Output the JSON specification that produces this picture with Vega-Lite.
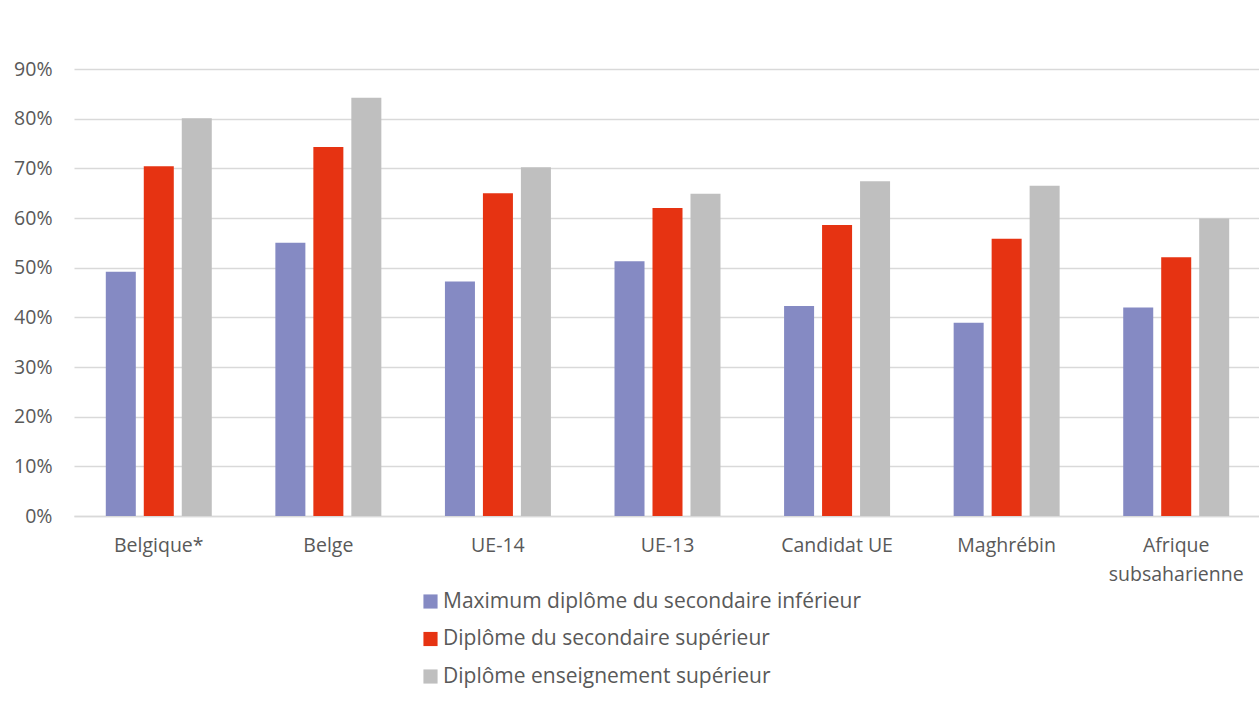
{
  "$schema": "https://vega.github.io/schema/vega-lite/v6.json",
  "autosize": "none",
  "width": 1187,
  "height": 447,
  "padding": {"left": 74, "top": 69, "right": 0, "bottom": 190},
  "background": "white",
  "data": {
    "values": [
      {"groupe": "Belgique*", "niveau": "Maximum diplôme du secondaire inférieur", "valeur": 0.492},
      {"groupe": "Belgique*", "niveau": "Diplôme du secondaire supérieur", "valeur": 0.704},
      {"groupe": "Belgique*", "niveau": "Diplôme enseignement supérieur", "valeur": 0.801},
      {"groupe": "Belge", "niveau": "Maximum diplôme du secondaire inférieur", "valeur": 0.550},
      {"groupe": "Belge", "niveau": "Diplôme du secondaire supérieur", "valeur": 0.743},
      {"groupe": "Belge", "niveau": "Diplôme enseignement supérieur", "valeur": 0.842},
      {"groupe": "UE-14", "niveau": "Maximum diplôme du secondaire inférieur", "valeur": 0.472},
      {"groupe": "UE-14", "niveau": "Diplôme du secondaire supérieur", "valeur": 0.650},
      {"groupe": "UE-14", "niveau": "Diplôme enseignement supérieur", "valeur": 0.702},
      {"groupe": "UE-13", "niveau": "Maximum diplôme du secondaire inférieur", "valeur": 0.513},
      {"groupe": "UE-13", "niveau": "Diplôme du secondaire supérieur", "valeur": 0.620},
      {"groupe": "UE-13", "niveau": "Diplôme enseignement supérieur", "valeur": 0.649},
      {"groupe": "Candidat UE", "niveau": "Maximum diplôme du secondaire inférieur", "valeur": 0.423},
      {"groupe": "Candidat UE", "niveau": "Diplôme du secondaire supérieur", "valeur": 0.586},
      {"groupe": "Candidat UE", "niveau": "Diplôme enseignement supérieur", "valeur": 0.674},
      {"groupe": "Maghrébin", "niveau": "Maximum diplôme du secondaire inférieur", "valeur": 0.389},
      {"groupe": "Maghrébin", "niveau": "Diplôme du secondaire supérieur", "valeur": 0.558},
      {"groupe": "Maghrébin", "niveau": "Diplôme enseignement supérieur", "valeur": 0.665},
      {"groupe": "Afrique subsaharienne", "niveau": "Maximum diplôme du secondaire inférieur", "valeur": 0.420},
      {"groupe": "Afrique subsaharienne", "niveau": "Diplôme du secondaire supérieur", "valeur": 0.521},
      {"groupe": "Afrique subsaharienne", "niveau": "Diplôme enseignement supérieur", "valeur": 0.599}
    ]
  },
  "mark": {"type": "bar"},
  "encoding": {
    "x": {
      "field": "groupe",
      "type": "nominal",
      "sort": null,
      "scale": {"paddingInner": 0.375, "paddingOuter": 0.1875},
      "axis": {
        "title": null,
        "labelAngle": 0,
        "ticks": false,
        "domain": true,
        "domainColor": "#D9D9D9",
        "domainWidth": 1.5,
        "labelPadding": 20,
        "labelFont": "Open Sans",
        "labelFontSize": 19.5,
        "labelColor": "#595959",
        "labelLineHeight": 29,
        "labelBaseline": "top",
        "labelOverlap": false,
        "labelExpr": "datum.label == 'Afrique subsaharienne' ? ['Afrique', 'subsaharienne'] : datum.label"
      }
    },
    "xOffset": {
      "field": "niveau",
      "type": "nominal",
      "sort": null,
      "scale": {"paddingInner": 0.21, "paddingOuter": 0}
    },
    "y": {
      "field": "valeur",
      "type": "quantitative",
      "scale": {"domain": [0, 0.9], "nice": false},
      "axis": {
        "title": null,
        "format": ".0%",
        "values": [0, 0.1, 0.2, 0.3, 0.4, 0.5, 0.6, 0.7, 0.8, 0.9],
        "ticks": false,
        "domain": false,
        "grid": true,
        "gridColor": "#D9D9D9",
        "gridWidth": 1.5,
        "labelOverlap": false,
        "labelPadding": 22,
        "labelFont": "Open Sans",
        "labelFontSize": 19.5,
        "labelColor": "#595959"
      }
    },
    "color": {
      "field": "niveau",
      "type": "nominal",
      "sort": null,
      "scale": {
        "domain": ["Maximum diplôme du secondaire inférieur", "Diplôme du secondaire supérieur", "Diplôme enseignement supérieur"],
        "range": ["#858AC3", "#E63312", "#BFBFBF"]
      },
      "legend": {
        "title": null,
        "orient": "none",
        "legendX": 346,
        "legendY": 522,
        "direction": "vertical",
        "symbolType": "square",
        "symbolSize": 200,
        "symbolStrokeWidth": 0,
        "labelFont": "Open Sans",
        "labelFontSize": 21,
        "labelColor": "#595959",
        "labelOffset": 2,
        "rowPadding": 15.5,
        "labelLimit": 700
      }
    }
  },
  "config": {
    "view": {"stroke": null}
  }
}
